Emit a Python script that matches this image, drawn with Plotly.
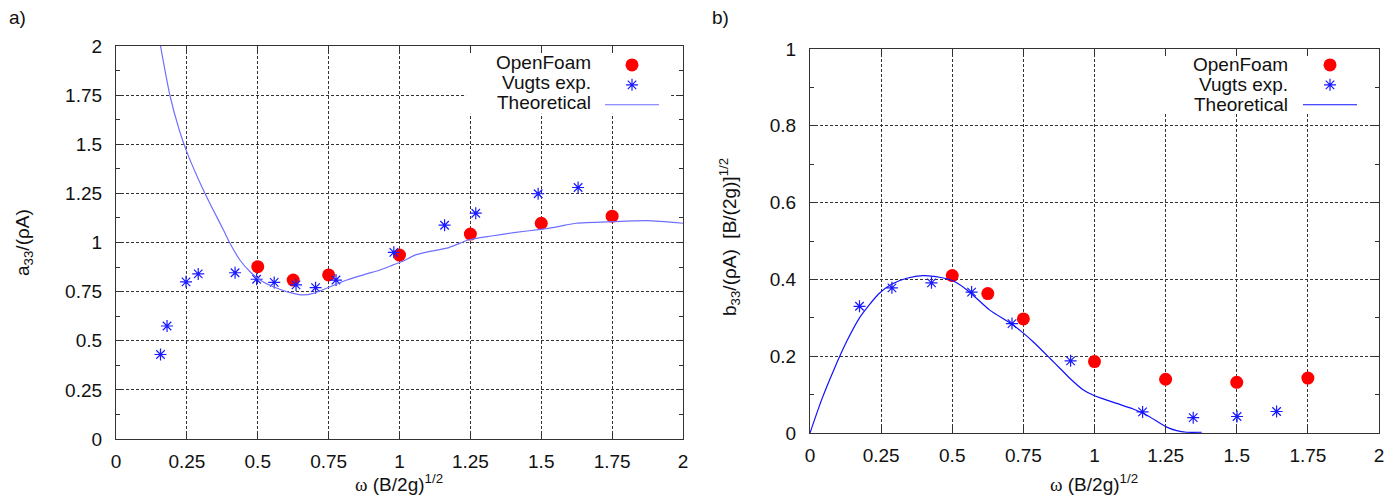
import plotly.graph_objects as go

# ---- panel a) added mass coefficient ----
omega_a_of = [0.5, 0.625, 0.75, 1.0, 1.25, 1.5, 1.75]
a33_of = [0.877, 0.809, 0.835, 0.936, 1.043, 1.098, 1.134]

omega_a_exp = [0.157, 0.18, 0.247, 0.29, 0.42, 0.496, 0.558, 0.635, 0.704,
               0.776, 0.98, 1.159, 1.269, 1.489, 1.630]
a33_exp = [0.43, 0.575, 0.80, 0.84, 0.846, 0.813, 0.797, 0.784, 0.770,
           0.809, 0.95, 1.088, 1.149, 1.248, 1.280]

omega_a_th = [0.157, 0.19, 0.223, 0.25, 0.308, 0.343, 0.379, 0.402, 0.437,
              0.473, 0.508, 0.555, 0.614, 0.661, 0.696, 0.743, 0.814, 0.884,
              0.931, 0.978, 1.009, 1.057, 1.104, 1.167, 1.214, 1.245, 1.324,
              1.403, 1.497, 1.56, 1.623, 1.748, 1.874, 2.0]
a33_th = [2.0, 1.75, 1.573, 1.46, 1.267, 1.165, 1.064, 0.996, 0.911,
          0.851, 0.809, 0.775, 0.745, 0.733, 0.741, 0.767, 0.809, 0.840,
          0.860, 0.886, 0.903, 0.937, 0.954, 0.971, 0.997, 1.014, 1.033,
          1.05, 1.067, 1.081, 1.098, 1.106, 1.111, 1.098]

# ---- panel b) damping coefficient ----
omega_b_of = [0.5, 0.625, 0.75, 1.0, 1.25, 1.5, 1.75]
b33_of = [0.410, 0.363, 0.297, 0.186, 0.140, 0.132, 0.143]

omega_b_exp = [0.174, 0.288, 0.427, 0.568, 0.71, 0.916, 1.169, 1.347, 1.501, 1.64]
b33_exp = [0.330, 0.378, 0.391, 0.367, 0.285, 0.188, 0.055, 0.040, 0.043, 0.056]

omega_b_th = [0.0, 0.04, 0.084, 0.13, 0.174, 0.241, 0.288, 0.34, 0.397, 0.46,
              0.5, 0.553, 0.632, 0.71, 0.75, 0.788, 0.844, 0.879, 0.914, 0.961,
              1.0, 1.078, 1.136, 1.183, 1.25, 1.289, 1.324, 1.377]
b33_th = [0.0, 0.085, 0.165, 0.24, 0.30, 0.362, 0.388, 0.403, 0.410, 0.405,
          0.397, 0.372, 0.320, 0.283, 0.26, 0.235, 0.194, 0.168, 0.142, 0.112,
          0.097, 0.077, 0.0625, 0.047, 0.0165, 0.006, 0.002, 0.002]

x_ticks = [0, 0.25, 0.5, 0.75, 1, 1.25, 1.5, 1.75, 2]
x_ticktext = ["0", "0.25", "0.5", "0.75", "1", "1.25", "1.5", "1.75", "2"]
ya_ticks = [0, 0.25, 0.5, 0.75, 1, 1.25, 1.5, 1.75, 2]
ya_ticktext = ["0", "0.25", "0.5", "0.75", "1", "1.25", "1.5", "1.75", "2"]
yb_ticks = [0, 0.2, 0.4, 0.6, 0.8, 1]
yb_ticktext = ["0", "0.2", "0.4", "0.6", "0.8", "1"]

series_names = ["OpenFoam", "Vugts exp.", "Theoretical"]

W, H = 1398, 501
FONT = "Liberation Sans"
RED = "#ff0000"
STAR = "#1a1aff"
LINE_A = "#6e6eff"
LINE_B = "#1010ff"


def px(x):
    return x / W


def py(y):
    return 1 - y / H


fig = go.Figure()

# panel a traces
fig.add_trace(go.Scatter(x=omega_a_of, y=a33_of, mode="markers", name=" ",
                         marker=dict(color=RED, size=13), legend="legend",
                         xaxis="x", yaxis="y"))
fig.add_trace(go.Scatter(x=omega_a_exp, y=a33_exp, mode="markers", name=" ",
                         marker=dict(symbol="asterisk-open", size=10, color=STAR,
                                     line=dict(color=STAR, width=1.2)),
                         legend="legend", xaxis="x", yaxis="y"))
fig.add_trace(go.Scatter(x=omega_a_th, y=a33_th, mode="lines", name=" ",
                         line=dict(color=LINE_A, width=1.2, shape="spline",
                                   smoothing=0.6),
                         legend="legend", xaxis="x", yaxis="y"))

# panel b traces
fig.add_trace(go.Scatter(x=omega_b_of, y=b33_of, mode="markers", name=" ",
                         marker=dict(color=RED, size=13), legend="legend2",
                         xaxis="x2", yaxis="y2"))
fig.add_trace(go.Scatter(x=omega_b_exp, y=b33_exp, mode="markers", name=" ",
                         marker=dict(symbol="asterisk-open", size=10, color=STAR,
                                     line=dict(color=STAR, width=1.2)),
                         legend="legend2", xaxis="x2", yaxis="y2"))
fig.add_trace(go.Scatter(x=omega_b_th, y=b33_th, mode="lines", name=" ",
                         line=dict(color=LINE_B, width=1.2, shape="spline",
                                   smoothing=0.6),
                         legend="legend2", xaxis="x2", yaxis="y2"))

grid = dict(showgrid=True, gridcolor="#333333", gridwidth=1, griddash="3px,2px",
            zeroline=False, showline=True, linecolor="#333333", linewidth=1.3,
            mirror="allticks", ticks="inside", ticklen=7, tickcolor="#333333",
            tickfont=dict(family=FONT, size=19, color="#111111"),
            automargin=False)

fig.update_layout(
    width=W, height=H,
    margin=dict(l=0, r=0, t=0, b=0, pad=0),
    paper_bgcolor="white", plot_bgcolor="white",
    showlegend=True,
    xaxis=dict(domain=[px(116), px(683)], range=[0, 2], anchor="y",
               tickvals=x_ticks, ticktext=x_ticktext, ticklabelstandoff=5, **grid),
    yaxis=dict(domain=[py(439), py(46)], range=[0, 2], anchor="x",
               tickvals=ya_ticks, ticktext=ya_ticktext, ticklabelstandoff=9,
               minor=dict(ticks="inside", ticklen=4, dtick=0.125,
                          tickcolor="#333333", showgrid=False),
               **grid),
    xaxis2=dict(domain=[px(810), px(1379)], range=[0, 2], anchor="y2",
                tickvals=x_ticks, ticktext=x_ticktext, ticklabelstandoff=5, **grid),
    yaxis2=dict(domain=[py(433), py(49)], range=[0, 1], anchor="x2",
                tickvals=yb_ticks, ticktext=yb_ticktext, ticklabelstandoff=9,
                minor=dict(ticks="inside", ticklen=4, dtick=0.1,
                           tickcolor="#333333", showgrid=False),
                **grid),
    legend=dict(x=px(600), y=py(50), xanchor="left", yanchor="top",
                bgcolor="rgba(0,0,0,0)", itemwidth=54,
                font=dict(family=FONT, size=13), tracegroupgap=0),
    legend2=dict(x=px(1298), y=py(50), xanchor="left", yanchor="top",
                 bgcolor="rgba(0,0,0,0)", itemwidth=54,
                 font=dict(family=FONT, size=13), tracegroupgap=0),
)

# white backing behind each key, hiding the grid there
fig.add_shape(type="rect", xref="x", yref="y", x0=1.235, x1=1.958, y0=1.655, y1=2.0,
              fillcolor="white", line=dict(width=0), layer="between")
fig.add_shape(type="rect", xref="x2", yref="y2", x0=1.02, x1=1.96, y0=0.833, y1=1.0,
              fillcolor="white", line=dict(width=0), layer="between")

ann = []
txt = dict(family=FONT, size=19, color="#111111")
# key labels, right-aligned next to the symbols
for i, name in enumerate(series_names):
    ann.append(dict(x=px(593), y=py(63 + 19.5 * i), xref="paper", yref="paper",
                    text=name, showarrow=False, xanchor="right", yanchor="middle",
                    font=txt))
    ann.append(dict(x=px(1290), y=py(64.5 + 20 * i), xref="paper", yref="paper",
                    text=name, showarrow=False, xanchor="right", yanchor="middle",
                    font=txt))

xtitle = ("<span style=\"font-family:'Liberation Serif'\">ω</span> (B/2g)<sup>1/2</sup>")
mid = dict(xref="paper", yref="paper", showarrow=False, font=txt,
           xanchor="center", yanchor="middle")
ann += [
    dict(x=px(17), y=py(18), text="a)", **mid),
    dict(x=px(720), y=py(18), text="b)", **mid),
    dict(x=px(399), y=py(483), text=xtitle, **mid),
    dict(x=px(1094), y=py(483), text=xtitle, **mid),
    dict(x=px(24), y=py(243), text="a<sub>33</sub>/(ρA)", textangle=-90, **mid),
    dict(x=px(729), y=py(237), text="b<sub>33</sub>/(ρA)  [B/(2g)]<sup>1/2</sup>",
         textangle=-90, **mid),
]
fig.update_layout(annotations=ann)

fig.write_html("out.html")
